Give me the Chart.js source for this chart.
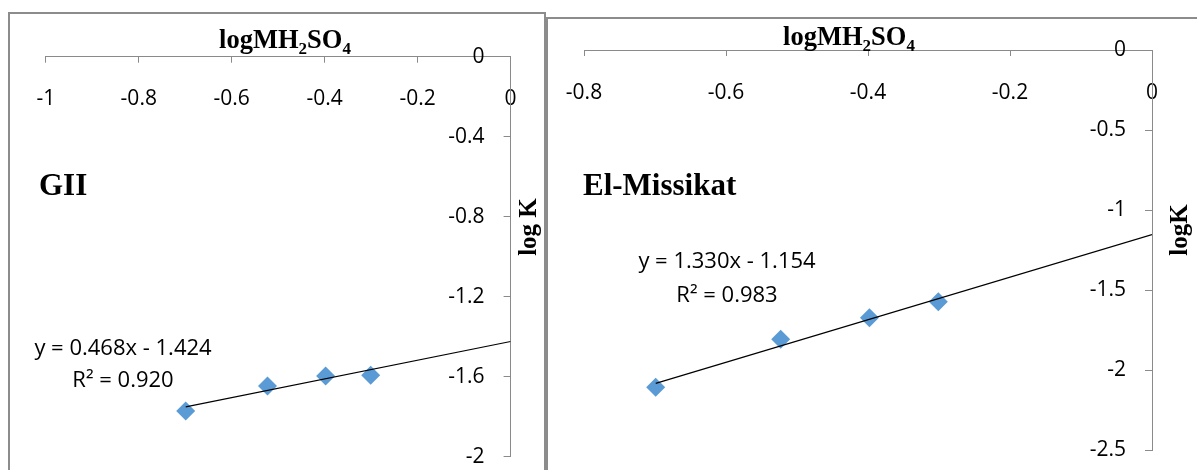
<!DOCTYPE html>
<html>
<head>
<meta charset="utf-8">
<script src="https://cdn.jsdelivr.net/npm/chart.js@4.4.1/dist/chart.umd.min.js"></script>
<style>
  html, body { margin: 0; padding: 0; background: #fff; }
  body { width: 1197px; height: 470px; position: relative; overflow: hidden; }
  .frame { position: absolute; border: 2px solid #8c8c8c; border-bottom: none; box-sizing: border-box; height: 480px; }
  .panel { position: absolute; top: 0; }
  .panel canvas { display: block; }
</style>
</head>
<body>
<div class="frame" style="left:8px; top:12px; width:538px;"></div>
<div class="frame" style="left:546px; top:17px; width:700px; border-right:none;"></div>
<div class="panel" style="left:0;"><canvas id="gii" width="545" height="470"></canvas></div>
<div class="panel" style="left:548px;"><canvas id="missikat" width="649" height="470"></canvas></div>

<script>
/* ---------- data ---------- */
// log of the acid molarity (0.2, 0.3, 0.4, 0.5 M)
const logAcid = [-0.699, -0.523, -0.398, -0.301];

// log K, GII sample
const logKGII = [-1.772, -1.647, -1.597, -1.593];
const fitGII = { slope: 0.468, intercept: -1.424, r2: 0.920 };
const xTicksGII = [-1, -0.8, -0.6, -0.4, -0.2, 0];
const yTicksGII = [0, -0.4, -0.8, -1.2, -1.6, -2];

// log K, El-Missikat sample
const logKMissikat = [-2.108, -1.808, -1.673, -1.573];
const fitMissikat = { slope: 1.330, intercept: -1.154, r2: 0.983 };
const xTicksMissikat = [-0.8, -0.6, -0.4, -0.2, 0];
const yTicksMissikat = [0, -0.5, -1, -1.5, -2, -2.5];

/* ---------- defaults ---------- */
Chart.defaults.font.family = "'Open Sans', sans-serif";
Chart.defaults.color = '#000';

const AXIS = '#8a8a8a';
const MARKER = '#5B9BD5';
const SERIF = "'Liberation Serif', 'Times New Roman', serif";

// title with subscript pieces: [text, isSub]
const acidTitle = [['logMH', false], ['2', true], ['SO', false], ['4', true]];

function drawRich(ctx, parts, cx, baseline, size) {
  const big = 'bold ' + size + 'px ' + SERIF;
  const small = 'bold ' + Math.round(size * 0.65) + 'px ' + SERIF;
  let total = 0;
  parts.forEach(([t, sub]) => { ctx.font = sub ? small : big; total += ctx.measureText(t).width; });
  let x = cx - total / 2;
  ctx.textAlign = 'left';
  ctx.textBaseline = 'alphabetic';
  parts.forEach(([t, sub]) => {
    ctx.font = sub ? small : big;
    ctx.fillText(t, x, baseline + (sub ? size * 0.22 : 0));
    x += ctx.measureText(t).width;
  });
}

/* ---------- text drawn over each panel ---------- */
const panelText = {
  id: 'panelText',
  afterDraw(chart, args, o) {
    const ctx = chart.ctx;
    ctx.save();
    ctx.fillStyle = '#000';

    // sample name
    ctx.font = 'bold 31px ' + SERIF;
    ctx.textAlign = 'left';
    ctx.textBaseline = 'alphabetic';
    ctx.fillText(o.name, o.nameX, o.nameY);

    // trendline equation
    ctx.font = "22px 'Open Sans'";
    ctx.textAlign = 'center';
    o.eqLines.forEach((line, i) => ctx.fillText(line, o.eqX, o.eqY[i]));

    // x axis title
    drawRich(ctx, acidTitle, o.xTitleX, o.xTitleY, 26.5);

    // y axis title, reading upward
    ctx.translate(o.yTitleX, o.yTitleY);
    ctx.rotate(-Math.PI / 2);
    ctx.font = 'bold 25px ' + SERIF;
    ctx.textAlign = 'center';
    ctx.textBaseline = 'alphabetic';
    ctx.fillText(o.yTitle, 0, 0);
    ctx.restore();
  }
};

function equation(fit) {
  const sign = fit.intercept < 0 ? ' - ' : ' + ';
  return [
    'y = ' + fit.slope.toFixed(3) + 'x' + sign + Math.abs(fit.intercept).toFixed(3),
    'R\u00B2 = ' + fit.r2.toFixed(3)
  ];
}

// keep the label padding from pushing the plot area around
function noScalePadding(s) {
  s.paddingLeft = s.paddingRight = s.paddingTop = s.paddingBottom = 0;
}

function makeChart(id, c) {
  const pts = logAcid.map((x, i) => ({ x, y: c.y[i] }));
  const trend = [logAcid[0], 0].map(x => ({ x, y: c.fit.slope * x + c.fit.intercept }));
  return new Chart(document.getElementById(id), {
    type: 'scatter',
    data: {
      datasets: [
        { type: 'line', data: trend, borderColor: '#000', borderWidth: 1.2, pointRadius: 0, fill: false, order: 0 },
        { data: pts, pointStyle: 'rectRot', pointRadius: 9.5, pointHoverRadius: 9.5,
          backgroundColor: MARKER, borderColor: MARKER, borderWidth: 0, order: 1 }
      ]
    },
    options: {
      responsive: false,
      animation: false,
      events: [],
      layout: { padding: { left: c.area.left, right: 0, top: 0, bottom: c.area.bottomPad } },
      plugins: {
        legend: { display: false },
        tooltip: { enabled: false },
        panelText: c.text
      },
      scales: {
        x: {
          type: 'linear', position: 'top',
          min: c.xTicks[0], max: c.xTicks[c.xTicks.length - 1],
          afterBuildTicks: s => { s.ticks = c.xTicks.map(v => ({ value: v })); },
          afterFit: s => { s.height = c.area.top; noScalePadding(s); },
          grid: { drawOnChartArea: false, drawTicks: true, tickLength: -6, color: AXIS },
          border: { color: AXIS, width: 1 },
          ticks: { mirror: true, padding: c.xPad, autoSkip: false, maxRotation: 0,
                   font: { size: 21 }, callback: v => String(v) }
        },
        y: {
          type: 'linear', position: 'right',
          min: c.yTicks[c.yTicks.length - 1], max: c.yTicks[0],
          afterBuildTicks: s => { s.ticks = c.yTicks.map(v => ({ value: v })); },
          afterFit: s => { s.width = c.area.rightW; noScalePadding(s); },
          grid: { drawOnChartArea: false, drawTicks: true, tickLength: -7, color: AXIS },
          border: { color: AXIS, width: 1 },
          ticks: { mirror: true, padding: -26, autoSkip: false,
                   font: { size: 21 }, callback: v => String(v) }
        }
      }
    },
    plugins: [panelText]
  });
}

makeChart('gii', {
  y: logKGII, fit: fitGII, xTicks: xTicksGII, yTicks: yTicksGII,
  area: { left: 45.8, top: 56.7, rightW: 545 - 510.6, bottomPad: 13.3 },
  xPad: 30,
  text: {
    name: 'GII', nameX: 39, nameY: 195,
    eqLines: equation(fitGII), eqX: 123, eqY: [355, 387],
    xTitleX: 285, xTitleY: 48,
    yTitle: 'log K', yTitleX: 536, yTitleY: 227
  }
});

makeChart('missikat', {
  y: logKMissikat, fit: fitMissikat, xTicks: xTicksMissikat, yTicks: yTicksMissikat,
  area: { left: 36, top: 50, rightW: 649 - 604, bottomPad: 20 },
  xPad: 30,
  text: {
    name: 'El-Missikat', nameX: 35, nameY: 195,
    eqLines: equation(fitMissikat), eqX: 179, eqY: [268, 302],
    xTitleX: 301, xTitleY: 45,
    yTitle: 'logK', yTitleX: 639, yTitleY: 230
  }
});
</script>
</body>
</html>
